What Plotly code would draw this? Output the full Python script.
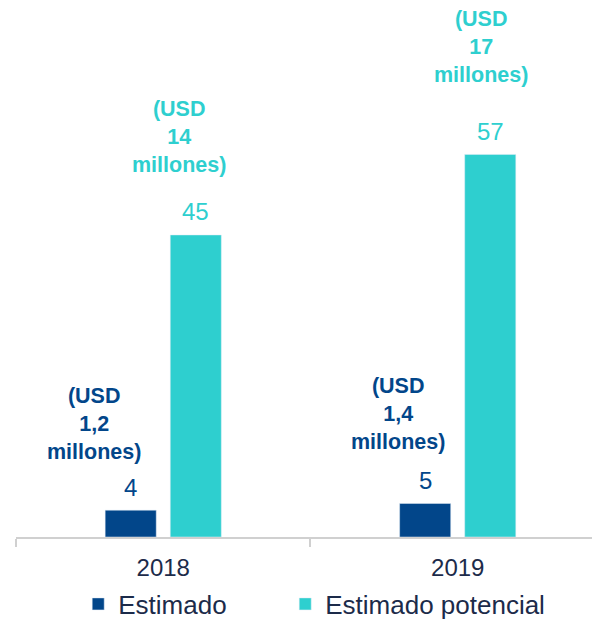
import plotly.graph_objects as go

years = ["2018", "2019"]
series_names = ["Estimado", "Estimado potencial"]
estimado = [4, 5]
potencial = [45, 57]
usd_estimado = ["1,2", "1,4"]
usd_potencial = ["14", "17"]

DARK = "#02468A"
TEAL = "#2ECFCF"
TEXT = "#1C2B4A"
FONT = "Liberation Sans, Arial, sans-serif"

# pixel offsets (xshift, yshift) of the "(USD ...)" notes, per series and year
note_shift_estimado = [(-37, 86), (-27, 89)]
note_shift_potencial = [(-17, 98), (-9, 107)]

fig = go.Figure()
fig.add_trace(go.Bar(x=years, y=estimado, name=series_names[0], marker_color=DARK,
                     legendwidth=162))
fig.add_trace(go.Bar(x=years, y=potencial, name=series_names[1], marker_color=TEAL,
                     legendwidth=240))

off = 0.11
annotations = []
for i, yr in enumerate(years):
    for vals, usd, sign, col, shifts in [
        (estimado, usd_estimado, -1, DARK, note_shift_estimado),
        (potencial, usd_potencial, 1, TEAL, note_shift_potencial),
    ]:
        xpos = i + sign * off
        annotations.append(dict(
            x=xpos, y=vals[i], xref="x", yref="y", text=str(vals[i]),
            showarrow=False, yanchor="middle", yshift=23,
            font=dict(family=FONT, size=24, color=col)))
        annotations.append(dict(
            x=xpos, y=vals[i], xref="x", yref="y",
            text="<b>(USD<br>" + usd[i] + "<br>millones)</b>",
            showarrow=False, yanchor="middle", xshift=shifts[i][0], yshift=shifts[i][1],
            align="center",
            font=dict(family=FONT, size=21.5, color=col)))

fig.update_layout(
    width=592, height=619,
    margin=dict(l=16, r=0, t=0, b=82),
    paper_bgcolor="white", plot_bgcolor="white",
    barmode="group", bargap=0.558, bargroupgap=0.215,
    showlegend=True,
    legend=dict(orientation="h", x=0.108, xanchor="left",
                yref="container", y=1 - 604 / 619, yanchor="middle",
                font=dict(family=FONT, size=26, color=TEXT), traceorder="normal"),
    annotations=annotations,
    font=dict(family=FONT),
)
fig.update_xaxes(type="category", range=[-0.5, 1.456], showline=True, linecolor="#D0D0D0",
                 linewidth=2, ticks="outside", tickson="boundaries", ticklen=8,
                 tickcolor="#D0D0D0", tickwidth=2, showgrid=False,
                 tickfont=dict(family=FONT, size=24, color=TEXT), ticklabelstandoff=8)
fig.update_yaxes(range=[0, 80], visible=False, showgrid=False, zeroline=False)

fig.write_html("out.html", config={"displayModeBar": False})
with open("out.html", encoding="utf-8") as f:
    html = f.read()
html = html.replace("<head>", "<head><style>html,body{margin:0;padding:0;overflow:hidden;}</style>", 1)
with open("out.html", "w", encoding="utf-8") as f:
    f.write(html)
